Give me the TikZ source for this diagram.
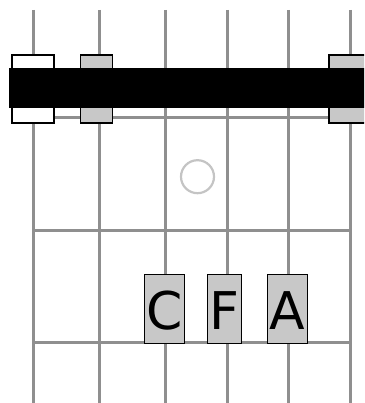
\documentclass[tikz,border=0pt]{standalone}
\usepackage{fontspec}
\newfontfamily\diagfont{DejaVu Sans}
\usetikzlibrary{positioning}
\definecolor{GridGray}{HTML}{8F8F8F}
\definecolor{BoxGray}{HTML}{C8C8C8}
\definecolor{RingGray}{HTML}{C4C4C4}

\begin{document}
\begin{tikzpicture}[x=1pt,y=-1pt,
  string/.style={draw=GridGray,line width=3pt},
  fret/.style={draw=GridGray,line width=3pt},
  marker/.style={draw=black,line width=1.3pt,fill=BoxGray,minimum height=68pt,inner sep=0pt},
  openmark/.style={marker,fill=white},
  note/.style={draw=black,line width=1.3pt,fill=BoxGray,font=\diagfont\fontsize{52}{52}\selectfont,text height=53pt,text depth=12pt,inner xsep=2pt,inner ysep=2pt,anchor=south},
  ring/.style={draw=RingGray,line width=2.2pt}
]
\useasboundingbox (0,0) rectangle (364,403);
\clip (0,0) rectangle (364,403);
% strings and frets
\foreach \x in {33,99,165,227,288,350}
  \draw[string] (\x,10) -- (\x,410);
\foreach \y in {118,230,342}
  \draw[fret] (33,\y) -- (350,\y);
% markers behind the bar
\node[openmark,minimum width=42pt] (m1) at (33,89) {};
\node[marker,minimum width=32pt] (m2) at (96.5,89) {};
\node[marker,minimum width=42pt] (m6) at (350,89) {};
\fill[black] (9,68) rectangle (370,108);
% open circle
\draw[ring] (197.5,176.7) circle (16.5pt);
% note names
\node[note] (c) at (164.5,344) {C};
\node[note] (f) at (224.5,344) {F};
\node[note] (a) at (287.5,344) {A};
\end{tikzpicture}
\end{document}
